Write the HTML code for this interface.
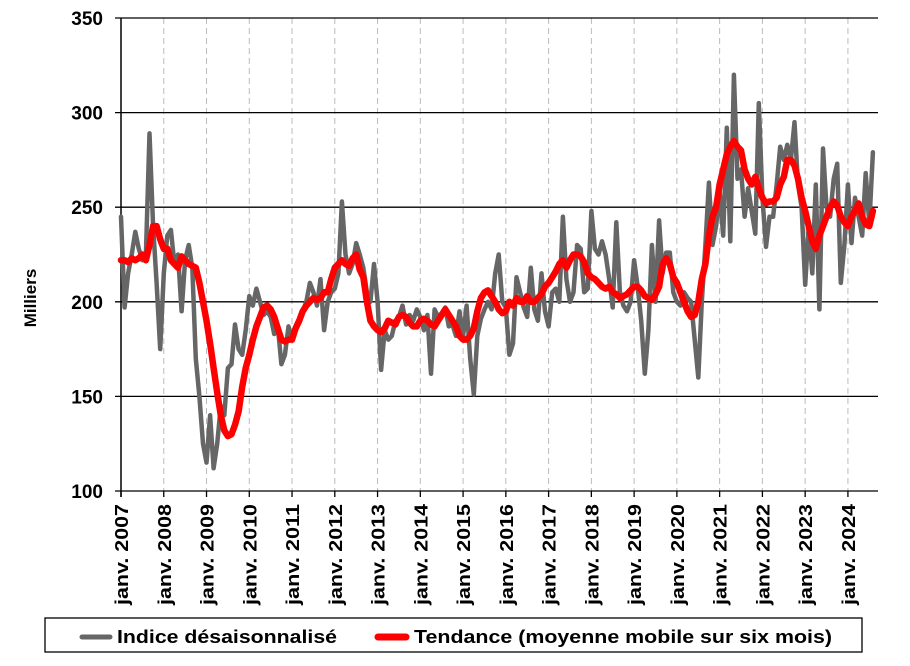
<!DOCTYPE html>
<html><head><meta charset="utf-8"><style>
body{margin:0;background:#fff;font-family:"Liberation Sans",Arial,sans-serif}
svg text{font-family:"Liberation Sans",Arial,sans-serif;font-weight:bold;fill:#000}
</style></head><body>
<svg id="c" width="910" height="661"></svg>
<script>
const startYear=2007;
const yTicks=[100,150,200,250,300,350];
const yearLabels=["janv. 2007","janv. 2008","janv. 2009","janv. 2010","janv. 2011","janv. 2012","janv. 2013","janv. 2014","janv. 2015","janv. 2016","janv. 2017","janv. 2018","janv. 2019","janv. 2020","janv. 2021","janv. 2022","janv. 2023","janv. 2024"];
const indexSeries=[245,197,215,225,237,228,222,225,289,240,210,175,
215,235,238,220,225,195,222,230,218,170,150,125,
115,140,112,125,145,140,165,167,188,175,172,185,
203,198,207,200,193,195,192,183,187,167,172,187,
180,185,190,195,200,210,205,198,212,185,200,205,
207,215,253,225,215,220,231,225,218,205,200,220,
200,164,185,180,182,190,192,198,188,193,190,196,
192,185,193,162,196,192,194,197,187,188,182,195,
182,198,170,151,182,191,196,200,196,215,225,200,
197,172,178,213,205,197,192,218,196,190,215,195,
187,205,207,200,245,212,200,205,230,228,205,207,
248,228,225,232,225,212,197,242,205,198,195,200,
222,208,190,162,185,230,200,243,215,226,226,205,
200,198,205,202,200,180,160,200,230,263,230,240,
258,235,292,232,320,265,270,245,260,248,236,305,
255,229,245,245,262,282,275,283,275,295,262,250,
209,240,215,262,196,281,250,245,265,273,210,230,
262,231,255,245,235,268,241,279];
const trendSeries=[222,222,221,223,222,223,225,222,230,240,240,233,
228,228,222,220,218,224,222,220,219,218,210,200,
190,178,165,152,140,132,129,130,135,142,155,165,
172,180,187,192,197,198,196,192,186,180,179,180,
180,186,190,195,198,200,202,201,202,205,205,212,
218,220,222,220,219,223,225,217,213,200,190,187,
185,184,186,190,189,188,192,193,192,189,187,187,
190,191,190,188,187,190,193,196,193,190,187,182,
180,180,182,186,195,202,205,206,203,200,196,194,
195,200,198,202,200,200,203,200,200,202,204,208,
210,213,216,220,222,218,222,225,225,224,221,215,
213,212,210,208,207,208,205,204,202,203,204,206,
208,208,206,203,202,201,204,208,220,223,220,213,
210,205,200,195,192,193,200,212,220,235,245,250,
262,270,278,282,285,282,280,270,265,262,266,260,
255,252,253,253,255,262,266,275,275,272,265,255,
248,240,232,228,235,240,245,250,253,251,245,242,
240,245,248,252,245,241,240,248];
const L=121,T=18,B=491,YW=42.76,yMin=100,yMax=350;
const xAt=m=>L+m*YW/12;
const yAt=v=>B-(v-yMin)/(yMax-yMin)*(B-T);
const NS="http://www.w3.org/2000/svg",svg=document.getElementById('c');
function mk(t,a,p){const e=document.createElementNS(NS,t);for(const k in a)e.setAttribute(k,a[k]);(p||svg).appendChild(e);return e;}
yearLabels.forEach((lab,i)=>{const x=xAt(i*12);
 const g=mk('line',{x1:x,x2:x,y1:T,y2:B,stroke:'#bbb','stroke-dasharray':'6,4'});
 
 
 const tk=mk('line',{x1:x,x2:x,y1:B,y2:B+6,stroke:'#000','stroke-width':1.3});
 
 
 const t=mk('text',{x:0,y:0,'font-size':18,'text-anchor':'end',textLength:101,lengthAdjust:'spacingAndGlyphs',transform:`translate(${x+7},${B+13}) rotate(-90)`});
 t.textContent=lab;
 
 
});
yTicks.forEach(v=>{const y=yAt(v);
 const g=mk('line',{x1:L-6,x2:878,y1:y,y2:y,stroke:'#000','stroke-width':1.3});
 
 
 const t=mk('text',{x:L-18,y:y+7,'font-size':19,'text-anchor':'end'});
 t.textContent=v;
 
 
});
const ax=mk('line',{x1:L,x2:L,y1:T,y2:B+6,stroke:'#000','stroke-width':1.5});


const yt=mk('text',{x:0,y:0,'font-size':17,'text-anchor':'middle',transform:'translate(36,298) rotate(-90)'});
yt.textContent='Milliers';


function line(arr,col,w,name){const pts=arr.map((v,i)=>xAt(i).toFixed(1)+','+yAt(v).toFixed(1)).join(' ');
 const p=mk('polyline',{points:pts,fill:'none',stroke:col,'stroke-width':w,'stroke-linejoin':'round','stroke-linecap':'round'});
 
 }
line(indexSeries,'#666',4.5,'index-series-line');
line(trendSeries,'#ff0000',6.5,'trend-series-line');
const lg=mk('g',{});


mk('rect',{x:45,y:618,width:817,height:34,fill:'#fff',stroke:'#000','stroke-width':1.3},lg);
mk('line',{x1:82,x2:110,y1:637,y2:637,stroke:'#666','stroke-width':5,'stroke-linecap':'round'},lg);
const t1=mk('text',{x:117,y:643,'font-size':18,textLength:220,lengthAdjust:'spacingAndGlyphs'},lg);t1.textContent='Indice désaisonnalisé';


mk('line',{x1:378,x2:406,y1:637,y2:637,stroke:'#ff0000','stroke-width':7,'stroke-linecap':'round'},lg);
const t2=mk('text',{x:414,y:643,'font-size':18,textLength:418,lengthAdjust:'spacingAndGlyphs'},lg);t2.textContent='Tendance (moyenne mobile sur six mois)';


</script>
</body></html>
